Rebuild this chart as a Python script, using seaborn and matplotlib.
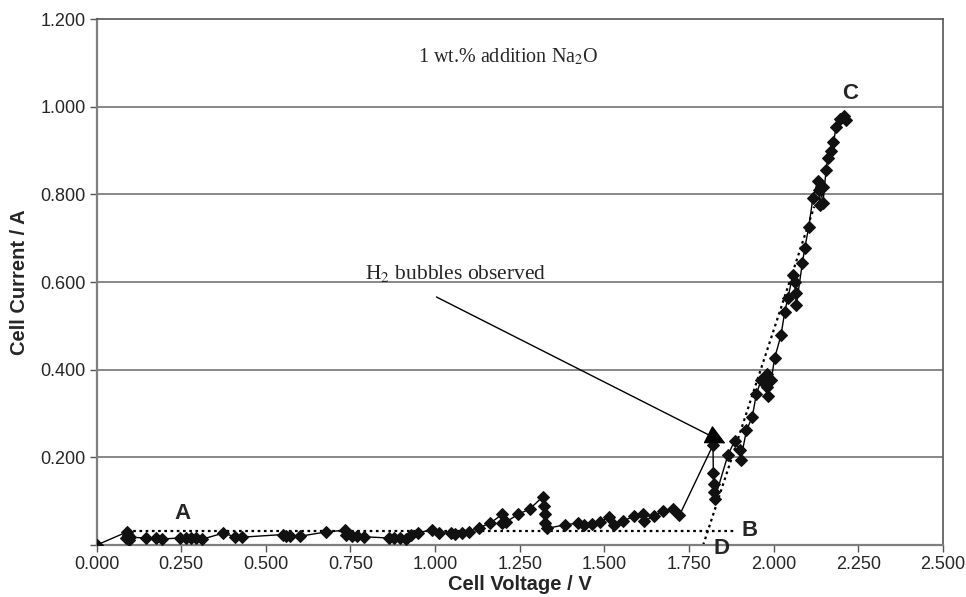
import numpy as np
import pandas as pd
import seaborn as sns
import matplotlib
matplotlib.use("Agg")
import matplotlib.pyplot as plt

# Data
voltage = [0.000, 0.090, 0.092, 0.088, 0.095, 0.100, 0.147, 0.176, 0.194, 0.245,
           0.265, 0.280, 0.295, 0.310, 0.373, 0.410, 0.430, 0.550, 0.560, 0.570,
           0.600, 0.678, 0.735, 0.737, 0.755, 0.770, 0.790, 0.865, 0.880, 0.895,
           0.913, 0.930, 0.950, 0.990, 1.013, 1.048, 1.060, 1.080, 1.100, 1.131,
           1.163, 1.198, 1.198, 1.210, 1.245, 1.279, 1.318, 1.322, 1.324, 1.326,
           1.330, 1.383, 1.422, 1.440, 1.465, 1.486, 1.515, 1.530, 1.555, 1.589,
           1.614, 1.618, 1.648, 1.673, 1.703, 1.722, 1.821, 1.822, 1.823, 1.824,
           1.826, 1.865, 1.885, 1.900, 1.903, 1.920, 1.937, 1.949, 1.963, 1.980,
           1.982, 1.983, 1.993, 2.003, 2.022, 2.033, 2.042, 2.057, 2.062, 2.065,
           2.067, 2.085, 2.092, 2.104, 2.116, 2.130, 2.134, 2.136, 2.146, 2.146,
           2.155, 2.160, 2.170, 2.177, 2.185, 2.195, 2.207, 2.215]
current = [0.000, 0.030, 0.022, 0.015, 0.012, 0.018, 0.016, 0.015, 0.014, 0.016,
           0.017, 0.016, 0.015, 0.013, 0.027, 0.019, 0.018, 0.024, 0.020, 0.021,
           0.020, 0.030, 0.034, 0.022, 0.020, 0.021, 0.019, 0.016, 0.017, 0.016,
           0.014, 0.024, 0.028, 0.035, 0.028, 0.027, 0.026, 0.028, 0.030, 0.040,
           0.050, 0.070, 0.050, 0.053, 0.070, 0.082, 0.110, 0.090, 0.070, 0.050,
           0.038, 0.046, 0.050, 0.045, 0.048, 0.052, 0.065, 0.045, 0.055, 0.066,
           0.070, 0.055, 0.066, 0.078, 0.082, 0.068, 0.228, 0.165, 0.140, 0.120,
           0.105, 0.205, 0.238, 0.218, 0.195, 0.262, 0.292, 0.344, 0.376, 0.390,
           0.360, 0.340, 0.376, 0.426, 0.479, 0.532, 0.563, 0.616, 0.600, 0.575,
           0.547, 0.643, 0.677, 0.726, 0.791, 0.830, 0.810, 0.775, 0.817, 0.780,
           0.855, 0.882, 0.900, 0.920, 0.954, 0.973, 0.980, 0.970]

# construction lines (dotted)
base_x = [0.09, 1.89]
base_y = [0.032, 0.032]
tangent_x = [1.792, 2.12]
tangent_y = [0.0, 0.772]

x_ticks = [0.0, 0.25, 0.5, 0.75, 1.0, 1.25, 1.5, 1.75, 2.0, 2.25, 2.5]
y_ticks = [0.0, 0.2, 0.4, 0.6, 0.8, 1.0, 1.2]

df = pd.DataFrame({'voltage': voltage, 'current': current})

sns.set_style('white')
plt.rcParams['font.family'] = ['Liberation Sans', 'DejaVu Sans']
plt.rcParams['mathtext.fontset'] = 'stix'

fig = plt.figure(figsize=(9.66, 5.97), dpi=100)
ax = fig.add_axes([0.100, 0.087, 0.876, 0.881])

# gridlines
for yv in y_ticks[1:-1]:
    ax.axhline(yv, color='#7f7f7f', lw=1.3, zorder=0)

sns.lineplot(x=base_x, y=base_y, ax=ax, color='black', lw=1.6,
             linestyle=(0, (1.2, 1.6)), zorder=2)
sns.lineplot(x=tangent_x, y=tangent_y, ax=ax, color='black', lw=1.6,
             linestyle=(0, (1.2, 1.6)), zorder=2)

sns.lineplot(data=df, x='voltage', y='current', ax=ax, sort=False, estimator=None,
             color='black', lw=1.0, marker='D', markersize=6.5,
             markeredgecolor='#111111', markerfacecolor='#111111', zorder=3)

ax.set_xlim(0, 2.5)
ax.set_ylim(0, 1.2)
ax.set_xticks(x_ticks)
ax.set_xticklabels(['%.3f' % v for v in x_ticks], fontsize=13)
ax.set_yticks(y_ticks)
ax.set_yticklabels([''] + ['%.3f' % v for v in y_ticks[1:]], fontsize=13)
ax.tick_params(axis='both', direction='out', length=5, width=1, color='#555555',
               bottom=True, left=True, pad=3)

ax.set_xlabel('Cell Voltage / V', fontsize=14.5, fontweight='bold', labelpad=1)
ax.set_ylabel('Cell Current / A', fontsize=14.5, fontweight='bold', labelpad=8)

for side in ['left', 'bottom']:
    ax.spines[side].set_color('#7f7f7f')
    ax.spines[side].set_linewidth(1.6)
for side in ['top', 'right']:
    ax.spines[side].set_color('#555555')
    ax.spines[side].set_linewidth(1.2)

# point labels
ax.text(0.255, 0.073, 'A', fontsize=16, fontweight='bold', ha='center', va='center')
ax.text(1.93, 0.034, 'B', fontsize=16, fontweight='bold', ha='center', va='center')
ax.text(2.225, 1.03, 'C', fontsize=16, fontweight='bold', ha='center', va='center')
ax.text(1.845, -0.007, 'D', fontsize=16, fontweight='bold', ha='center', va='center')

ax.text(1.215, 1.113, '1 wt.% addition Na$_2$O', fontsize=14.5,
        family=['Liberation Serif', 'DejaVu Serif'], ha='center', va='center')
ax.text(0.792, 0.62, 'H$_2$ bubbles observed', fontsize=15.5,
        family=['Liberation Serif', 'DejaVu Serif'], ha='left', va='center')
ax.annotate('', xy=(1.858, 0.232), xytext=(1.004, 0.566), zorder=6,
            arrowprops=dict(arrowstyle='-|>,head_length=0.7,head_width=0.35',
                            color='black', lw=1.0,
                            mutation_scale=18, shrinkA=0, shrinkB=0))

plt.savefig('out.png', dpi=100)
